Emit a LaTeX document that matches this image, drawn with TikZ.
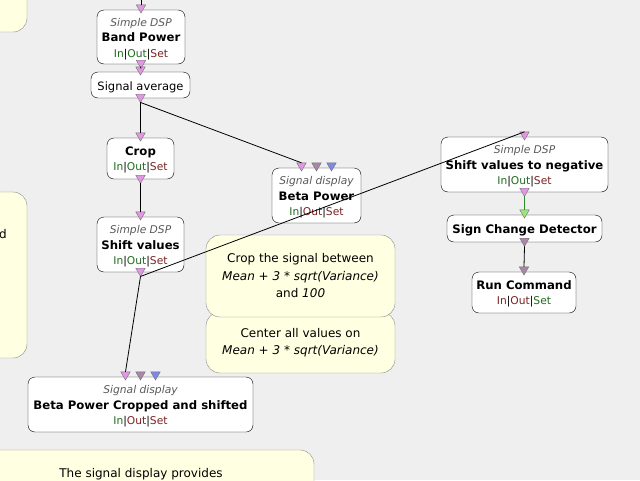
\documentclass[tikz,border=0pt]{standalone}
\usepackage{fontspec}
\setmainfont{DejaVu Sans}
\usetikzlibrary{shapes.geometric}
\definecolor{canvas}{HTML}{EFEFEF}
\definecolor{notefill}{HTML}{FFFFE1}
\definecolor{notedraw}{HTML}{8A8A8A}
\definecolor{labelgray}{HTML}{5A5A5A}
\definecolor{okgreen}{HTML}{1F6B1F}
\definecolor{badred}{HTML}{7A2222}
\definecolor{sockpink}{HTML}{E396E3}
\definecolor{sockmauve}{HTML}{A887A8}
\definecolor{sockblue}{HTML}{7C8AE6}
\definecolor{sockgreen}{HTML}{9CE67A}
\definecolor{linkgreen}{HTML}{2E8B2E}
\newcommand\boxkind[1]{\rule{0pt}{12pt}{\color{labelgray}\itshape #1}}
\newcommand\boxname[1]{\rule{0pt}{12pt}{\fontsize{11.7}{15.5}\selectfont\bfseries #1}}
\newcommand\ioset[3]{{\color{#1}In}|{\color{#2}Out}|{\color{#3}Set}}
\tikzset{
  box/.style={draw=black, fill=white, rounded corners=7pt, align=center, inner sep=0pt,
    font=\fontsize{10.7}{15.5}\selectfont, execute at begin node={\rule{0pt}{12.5pt}}},
  note/.style={draw=notedraw, fill=notefill, rounded corners=14pt, align=center, inner sep=0pt,
    font=\fontsize{12}{17.5}\selectfont},
  socket/.style={regular polygon, regular polygon sides=3, shape border rotate=180,
    draw=black!55, minimum size=11pt, inner sep=0pt, outer sep=0pt, anchor=north},
  link/.style={line width=0.8pt},
}
\begin{document}
\begin{tikzpicture}[x=1pt, y=-1pt]
  \fill[canvas] (0,0) rectangle (640,480);
  \useasboundingbox (0,0) rectangle (640,480);

  \node[note, minimum width=60pt, minimum height=60pt] (topnote) at (-3,2) {};
  \node[note, minimum width=60pt, minimum height=166pt] (leftnote) at (-3,275) {};
  \node[font=\fontsize{12}{14}\selectfont] (lefttext) at (3,234) {d};
  \node[note, minimum width=347pt, minimum height=70pt] (bottomnote) at (140.5,485) {};
  \node[font=\fontsize{12}{14}\selectfont] (bottomtext) at (141,474) {The signal display provides};
  \node[note, minimum width=189pt, minimum height=61pt] (centernote) at (300.5,342.5)
    {Center all values on\\ \textit{Mean + 3 * sqrt(Variance)}};
  \node[note, minimum width=189pt, minimum height=82pt] (cropnote) at (300.5,276)
    {Crop the signal between\\ \textit{Mean + 3 * sqrt(Variance)}\\ and \textit{100}};

  \node[box, minimum width=88pt, minimum height=54pt] (bandpower) at (141,37)
    {\boxkind{Simple DSP}\\ \boxname{Band Power}\\ \ioset{okgreen}{okgreen}{badred}};
  \node[box, minimum width=99pt, minimum height=26pt, font=\fontsize{11.5}{15.5}\selectfont] (sigavg) at (140.5,85)
    {Signal average};
  \node[box, minimum width=67pt, minimum height=41pt] (crop) at (140.5,158.5)
    {\boxname{Crop}\\ \ioset{okgreen}{okgreen}{badred}};
  \node[box, minimum width=87pt, minimum height=55pt] (shift) at (140.5,244.5)
    {\boxkind{Simple DSP}\\ \boxname{Shift values}\\ \ioset{okgreen}{okgreen}{badred}};
  \node[box, minimum width=89pt, minimum height=55pt] (betapower) at (316.5,195.5)
    {\boxkind{Signal display}\\ \boxname{Beta Power}\\ \ioset{okgreen}{badred}{badred}};
  \node[box, minimum width=225pt, minimum height=55pt] (betacrop) at (140.5,404.5)
    {\boxkind{Signal display}\\ \boxname{Beta Power Cropped and shifted}\\ \ioset{okgreen}{badred}{badred}};
  \node[box, minimum width=167pt, minimum height=55pt] (negshift) at (524.5,164.5)
    {\boxkind{Simple DSP}\\ \boxname{Shift values to negative}\\ \ioset{okgreen}{okgreen}{badred}};
  \node[box, minimum width=155pt, minimum height=27pt] (signchange) at (524.5,228.5)
    {\boxname{Sign Change Detector}};
  \node[box, minimum width=104pt, minimum height=41pt] (runcmd) at (524,292.5)
    {\boxname{Run Command}\\ \ioset{badred}{badred}{okgreen}};

  \coordinate (src) at (141,-5);
  \node[socket, fill=sockpink] (bp-in) at ([yshift=5pt]bandpower.north) {};
  \node[socket, fill=sockpink] (bp-out) at ([yshift=4pt]bandpower.south) {};
  \node[socket, fill=sockpink] (sa-in) at ([yshift=5pt]sigavg.north) {};
  \node[socket, fill=sockpink] (sa-out) at ([yshift=4pt]sigavg.south) {};
  \node[socket, fill=sockpink] (crop-in) at ([yshift=5pt]crop.north) {};
  \node[socket, fill=sockpink] (crop-out) at ([yshift=4pt]crop.south) {};
  \node[socket, fill=sockpink] (shift-in) at ([yshift=5pt]shift.north) {};
  \node[socket, fill=sockpink] (shift-out) at ([yshift=4pt]shift.south) {};
  \node[socket, fill=sockpink] (bpw-in1) at ([xshift=-15pt,yshift=5pt]betapower.north) {};
  \node[socket, fill=sockmauve] (bpw-in2) at ([yshift=5pt]betapower.north) {};
  \node[socket, fill=sockblue] (bpw-in3) at ([xshift=15pt,yshift=5pt]betapower.north) {};
  \node[socket, fill=sockpink] (bc-in1) at ([xshift=-15pt,yshift=5pt]betacrop.north) {};
  \node[socket, fill=sockmauve] (bc-in2) at ([yshift=5pt]betacrop.north) {};
  \node[socket, fill=sockblue] (bc-in3) at ([xshift=15pt,yshift=5pt]betacrop.north) {};
  \node[socket, fill=sockpink] (neg-in) at ([yshift=5pt]negshift.north) {};
  \node[socket, fill=sockpink] (neg-out) at ([yshift=4pt]negshift.south) {};
  \node[socket, fill=sockgreen] (scd-in) at ([yshift=5pt]signchange.north) {};
  \node[socket, fill=sockmauve] (scd-out) at ([yshift=4pt]signchange.south) {};
  \node[socket, fill=sockmauve] (run-in) at ([yshift=5pt]runcmd.north) {};

  \draw[link] (src) -- (bp-in.north);
  \draw[link] (bp-out.south) -- (sa-in.north);
  \draw[link] (sa-out.south) -- (crop-in.north);
  \draw[link] (sa-out.south) -- (bpw-in1.north);
  \draw[link] (crop-out.south) -- (shift-in.north);
  \draw[link] (shift-out.south) -- (bc-in1.north);
  \draw[link] (shift-out.south) -- (neg-in.north);
  \draw[link, linkgreen] (neg-out.south) -- (scd-in.north);
  \draw[link] (scd-out.south) -- (run-in.north);
\end{tikzpicture}
\end{document}
